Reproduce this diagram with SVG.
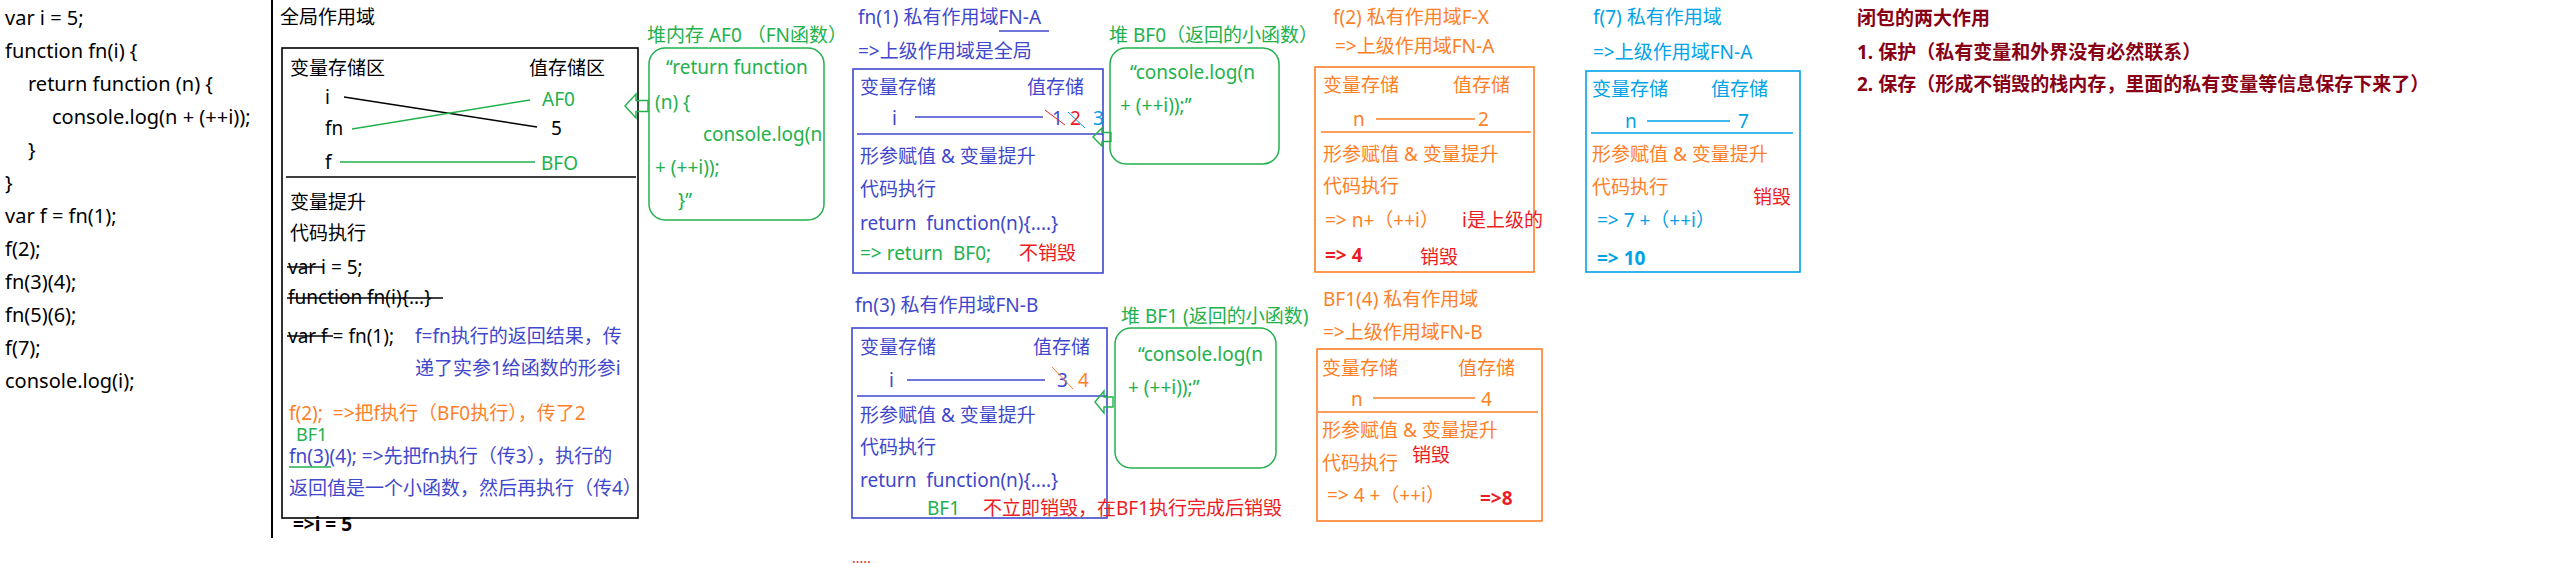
<svg xmlns="http://www.w3.org/2000/svg" width="2576" height="576" viewBox="0 0 2576 576">
<style>
text { font-family: "Noto Sans", "Noto Sans CJK SC", sans-serif; font-size: 19px; fill: #000; white-space: pre; }
.code { font-size: 20px; }
.b { fill: #3F48CC; } .g { fill: #22B14C; } .o { fill: #FF7F27; } .r { fill: #ED1C24; } .c { fill: #00A2E8; }
.d { fill: #880015; font-weight: bold; }
.bold { font-weight: bold; }
.box { fill: none; stroke-width: 1.6; }
.heap { fill: none; stroke: #22B14C; stroke-width: 1.5; }
.ln { stroke-width: 1.5; fill: none; }
.arrow { fill: none; stroke: #22B14C; stroke-width: 1.4; }
</style>
<rect width="2576" height="576" fill="#fff"/>

<g id="code">
<text class="code" x="5" y="25">var i = 5;</text>
<text class="code" x="5" y="58">function fn(i) {</text>
<text class="code" x="28" y="91">return function (n) {</text>
<text class="code" x="52" y="124">console.log(n + (++i));</text>
<text class="code" x="28" y="157">}</text>
<text class="code" x="5" y="190">}</text>
<text class="code" x="5" y="223">var f = fn(1);</text>
<text class="code" x="5" y="256">f(2);</text>
<text class="code" x="5" y="289">fn(3)(4);</text>
<text class="code" x="5" y="322">fn(5)(6);</text>
<text class="code" x="5" y="355">f(7);</text>
<text class="code" x="5" y="388">console.log(i);</text>
<line x1="272" y1="0" x2="272" y2="538" stroke="#000" stroke-width="2"/>
</g>

<g id="global-scope">
<text x="280" y="24">全局作用域</text>
<rect class="box" x="282" y="48" width="356" height="470" stroke="#000"/>
<text x="290" y="75">变量存储区</text>
<text x="529" y="75">值存储区</text>
<text x="325" y="104">i</text>
<text x="325" y="135">fn</text>
<text x="325" y="169">f</text>
<line class="ln" x1="344" y1="97" x2="537" y2="127" stroke="#000"/>
<line class="ln" x1="352" y1="129" x2="530" y2="100" stroke="#22B14C"/>
<line class="ln" x1="340" y1="162" x2="535" y2="162" stroke="#22B14C"/>
<text class="g" x="542" y="106">AF0</text>
<text x="551" y="135">5</text>
<text class="g" x="541" y="170">BFO</text>
<line class="ln" x1="286" y1="177" x2="636" y2="177" stroke="#000"/>
<text x="290" y="209">变量提升</text>
<text x="290" y="240">代码执行</text>
<text x="288" y="274">var i = 5;</text>
<line class="ln" x1="287" y1="267" x2="323" y2="267" stroke="#000"/>
<text x="288" y="304">function fn(i){...}</text>
<line class="ln" x1="287" y1="298" x2="443" y2="298" stroke="#000"/>
<text x="288" y="343">var f = fn(1);</text>
<line class="ln" x1="287" y1="336" x2="333" y2="336" stroke="#000"/>
<text class="b" x="415" y="343">f=fn执行的返回结果，传</text>
<text class="b" x="415" y="375">递了实参1给函数的形参i</text>
<text class="o" x="289" y="420">f(2);  =&gt;把f执行（BF0执行），传了2</text>
<text class="g" x="296" y="441" style="font-size:18px">BF1</text>
<text class="b" x="289" y="463">fn(3)(4); =&gt;先把fn执行（传3），执行的</text>
<line class="ln" x1="289" y1="467" x2="331" y2="467" stroke="#22B14C"/>
<text class="b" x="289" y="495">返回值是一个小函数，然后再执行（传4）</text>
<text class="bold" x="293" y="531">=&gt;i = 5</text>
</g>

<g id="heap-af0">
<text class="g" x="647" y="42">堆内存 AF0 （FN函数）</text>
<rect class="heap" x="649" y="48" width="175" height="172" rx="16"/>
<text class="g" x="666" y="74">“return function</text>
<text class="g" x="655" y="109">(n) {</text>
<text class="g" x="703" y="141">console.log(n</text>
<text class="g" x="655" y="174">+ (++i));</text>
<text class="g" x="678" y="207">}”</text>
</g>

<g id="scope-fn-a">
<text class="b" x="858" y="24">fn(1) 私有作用域FN-A</text>
<line class="ln" x1="999" y1="31" x2="1049" y2="31" stroke="#3F48CC"/>
<text class="b" x="858" y="58">=&gt;上级作用域是全局</text>
<rect class="box" x="853" y="69" width="250" height="204" stroke="#3F48CC"/>
<text class="b" x="860" y="94">变量存储</text>
<text class="b" x="1027" y="94">值存储</text>
<text class="b" x="892" y="125">i</text>
<line class="ln" x1="915" y1="117" x2="1043" y2="117" stroke="#3F48CC"/>
<text class="b" x="1052" y="125">1</text>
<text class="r" x="1070" y="125">2</text>
<text class="c" x="1093" y="125">3</text>
<line x1="1045" y1="110" x2="1065" y2="125" stroke="#ED1C24" stroke-width="1"/>
<line x1="1068" y1="112" x2="1085" y2="128" stroke="#00A2E8" stroke-width="1"/>
<line class="ln" x1="857" y1="134" x2="1103" y2="134" stroke="#3F48CC"/>
<text class="b" x="860" y="163">形参赋值 &amp; 变量提升</text>
<text class="b" x="860" y="196">代码执行</text>
<text class="b" x="860" y="230">return  function(n){....}</text>
<text class="g" x="860" y="260">=&gt; return  BF0;</text>
<text class="r" x="1019" y="260">不销毁</text>
</g>

<g id="heap-bf0">
<text class="g" x="1109" y="42">堆 BF0（返回的小函数）</text>
<rect class="heap" x="1110" y="48" width="169" height="116" rx="16"/>
<text class="g" x="1130" y="79">“console.log(n</text>
<text class="g" x="1120" y="112">+ (++i));”</text>
</g>

<g id="scope-fn-b">
<text class="b" x="855" y="312">fn(3) 私有作用域FN-B</text>
<rect class="box" x="852" y="328" width="255" height="190" stroke="#3F48CC"/>
<text class="b" x="860" y="354">变量存储</text>
<text class="b" x="1033" y="354">值存储</text>
<text class="b" x="889" y="387">i</text>
<line class="ln" x1="907" y1="380" x2="1045" y2="380" stroke="#3F48CC"/>
<text class="b" x="1057" y="387">3</text>
<text class="o" x="1078" y="387">4</text>
<line x1="1052" y1="367" x2="1073" y2="389" stroke="#FF7F27" stroke-width="1"/>
<line class="ln" x1="857" y1="396" x2="1107" y2="396" stroke="#3F48CC"/>
<text class="b" x="860" y="422">形参赋值 &amp; 变量提升</text>
<text class="b" x="860" y="454">代码执行</text>
<text class="b" x="860" y="487">return  function(n){....}</text>
<text class="g" x="927" y="515">BF1</text>
<text class="r" x="983" y="515">不立即销毁，在BF1执行完成后销毁</text>
<text class="r" x="852" y="563" style="font-size:14px">.....</text>
</g>

<g id="heap-bf1">
<text class="g" x="1121" y="323">堆 BF1 (返回的小函数)</text>
<rect class="heap" x="1115" y="328" width="161" height="140" rx="16"/>
<text class="g" x="1138" y="361">“console.log(n</text>
<text class="g" x="1128" y="394">+ (++i));”</text>
</g>

<g id="scope-f-x">
<text class="o" x="1333" y="24">f(2) 私有作用域F-X</text>
<text class="o" x="1335" y="53">=&gt;上级作用域FN-A</text>
<rect class="box" x="1315" y="67" width="219" height="205" stroke="#FF7F27"/>
<text class="o" x="1323" y="92">变量存储</text>
<text class="o" x="1453" y="92">值存储</text>
<text class="o" x="1353" y="126">n</text>
<line class="ln" x1="1376" y1="119" x2="1475" y2="119" stroke="#FF7F27"/>
<text class="o" x="1478" y="126">2</text>
<line class="ln" x1="1321" y1="132" x2="1531" y2="132" stroke="#FF7F27"/>
<text class="o" x="1323" y="161">形参赋值 &amp; 变量提升</text>
<text class="o" x="1323" y="193">代码执行</text>
<text class="o" x="1325" y="227">=&gt; n+（++i）</text>
<text class="r" x="1462" y="227">i是上级的</text>
<text class="r bold" x="1325" y="262">=&gt; 4</text>
<text class="r" x="1420" y="264">销毁</text>
</g>

<g id="scope-bf1-4">
<text class="o" x="1323" y="306">BF1(4) 私有作用域</text>
<text class="o" x="1323" y="339">=&gt;上级作用域FN-B</text>
<rect class="box" x="1317" y="349" width="225" height="172" stroke="#FF7F27"/>
<text class="o" x="1322" y="375">变量存储</text>
<text class="o" x="1458" y="375">值存储</text>
<text class="o" x="1351" y="406">n</text>
<line class="ln" x1="1373" y1="398" x2="1475" y2="398" stroke="#FF7F27"/>
<text class="o" x="1481" y="406">4</text>
<line class="ln" x1="1318" y1="412" x2="1538" y2="412" stroke="#FF7F27"/>
<text class="o" x="1322" y="437">形参赋值 &amp; 变量提升</text>
<text class="o" x="1322" y="470">代码执行</text>
<text class="r" x="1412" y="462">销毁</text>
<text class="o" x="1327" y="502">=&gt; 4 +（++i）</text>
<text class="r bold" x="1480" y="505">=&gt;8</text>
</g>

<g id="scope-f7">
<text class="c" x="1593" y="24">f(7) 私有作用域</text>
<text class="c" x="1593" y="59">=&gt;上级作用域FN-A</text>
<rect class="box" x="1586" y="71" width="214" height="201" stroke="#00A2E8"/>
<text class="c" x="1592" y="96">变量存储</text>
<text class="c" x="1711" y="96">值存储</text>
<text class="c" x="1625" y="128">n</text>
<line class="ln" x1="1647" y1="121" x2="1730" y2="121" stroke="#00A2E8"/>
<text class="c" x="1738" y="128">7</text>
<line class="ln" x1="1591" y1="133" x2="1793" y2="133" stroke="#00A2E8"/>
<text class="o" x="1592" y="161">形参赋值 &amp; 变量提升</text>
<text class="o" x="1592" y="194">代码执行</text>
<text class="r" x="1753" y="204">销毁</text>
<text class="c" x="1597" y="227">=&gt; 7 +（++i）</text>
<text class="c bold" x="1597" y="265">=&gt; 10</text>
</g>

<g id="notes">
<text class="d" x="1857" y="25">闭包的两大作用</text>
<text class="d" x="1857" y="59">1. 保护（私有变量和外界没有必然联系）</text>
<text class="d" x="1857" y="91">2. 保存（形成不销毁的栈内存，里面的私有变量等信息保存下来了）</text>
</g>

<g id="connectors">
<polygon class="arrow" points="625,106 636,94 636,100.5 648,100.5 648,111.5 636,111.5 636,118"/>
<polygon class="arrow" points="1093,137 1102,128 1102,132.5 1111,132.5 1111,141.5 1102,141.5 1102,146"/>
<polygon class="arrow" points="1095,402 1104,391 1104,397 1113,397 1113,407 1104,407 1104,413"/>
</g>
</svg>
